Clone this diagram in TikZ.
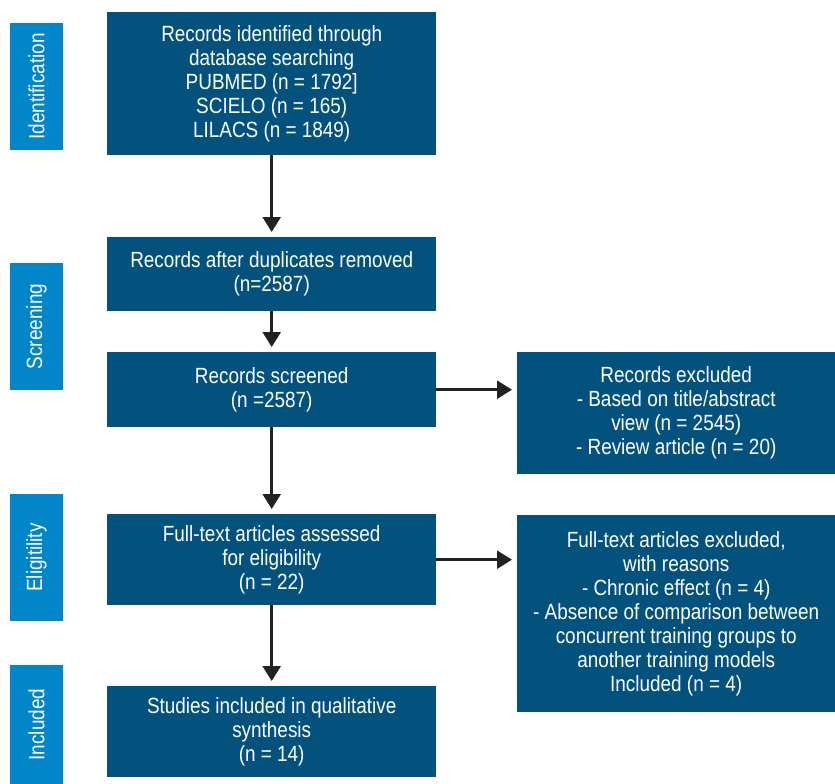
\documentclass[tikz,border=0pt]{standalone}
\usepackage{fontspec}
\setmainfont{Liberation Sans}[FakeStretch=0.86]
\usetikzlibrary{positioning}
\usetikzlibrary{arrows.meta}
\definecolor{boxblue}{RGB}{3,82,125}
\definecolor{phaseblue}{RGB}{0,134,201}
\definecolor{arrowgray}{RGB}{34,34,34}

\tikzset{
  flowbox/.style={fill=boxblue, text=white, anchor=north west, align=center,
    minimum width=329pt, inner sep=0pt, font=\fontsize{22}{24}\selectfont},
  sidebox/.style={flowbox, minimum width=318pt},
  phase/.style={fill=phaseblue, text=white, rotate=90,
    minimum height=53pt, inner sep=0pt, font=\fontsize{22}{24}\selectfont},
  flowarrow/.style={-{Triangle[length=15pt,width=18pt]}, arrowgray, line width=2.6pt,
    shorten >=5pt}
}

\begin{document}
\begin{tikzpicture}[x=1pt, y=-1pt]

  \useasboundingbox (0,0) rectangle (835,784);

  % ---- phase labels on the left ----
  \node[phase, minimum width=127pt] (P1) at (36.5,86.5) {Identification};
  \node[phase, minimum width=127pt] (P2) at (36.5,326.5) {Screening};
  \node[phase, minimum width=127pt] (P3) at (36.5,557.5) {Eligitility};
  \node[phase, minimum width=119pt] (P4) at (36.5,724.5) {Included};

  % ---- main column ----
  \node[flowbox, minimum height=143pt] (A) at (107,12)
    {Records identified through\\ database searching\\ PUBMED (n = 1792]\\ SCIELO (n = 165)\\ LILACS (n = 1849)};
  \node[flowbox, minimum height=74pt] (B) at (107,237)
    {Records after duplicates removed\\ (n=2587)};
  \node[flowbox, minimum height=75pt] (C) at (107,352)
    {Records screened\\ (n =2587)};
  \node[flowbox, minimum height=91pt] (D) at (107,514)
    {Full-text articles assessed\\ for eligibility\\ (n = 22)};
  \node[flowbox, minimum height=91pt] (E) at (107,686)
    {Studies included in qualitative\\ synthesis\\ (n = 14)};

  % ---- right column ----
  \node[sidebox, minimum height=122pt] (X1) at (517,352)
    {Records excluded\\ - Based on title/abstract\\ view (n = 2545)\\ - Review article (n = 20)};
  \node[sidebox, minimum height=197pt] (X2) at (517,515)
    {Full-text articles excluded,\\ with reasons\\ - Chronic effect (n = 4)\\ - Absence of comparison between\\ concurrent training groups to\\ another training models\\ Included (n = 4)};

  \draw[flowarrow] (A) -- (B);
  \draw[flowarrow] (B) -- (C);
  \draw[flowarrow] (C) -- (D);
  \draw[flowarrow] (D) -- (E);
  \draw[flowarrow] (C.east) -- (C.east -| X1.west);
  \draw[flowarrow] (D.east) -- (D.east -| X2.west);

\end{tikzpicture}
\end{document}
